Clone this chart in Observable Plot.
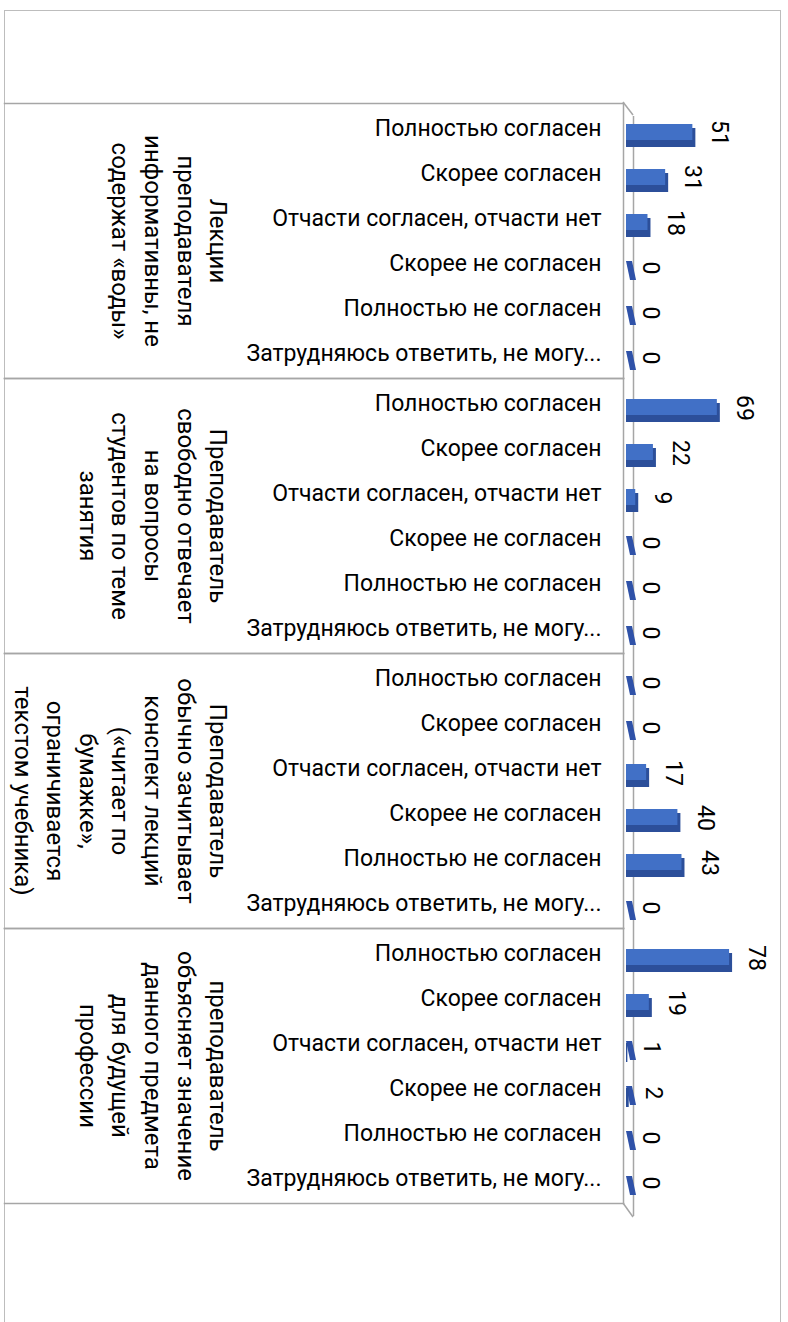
<!DOCTYPE html>
<html><head><meta charset="utf-8">
<script src="https://cdn.jsdelivr.net/npm/d3@7"></script>
<script src="https://cdn.jsdelivr.net/npm/@observablehq/plot@0.6"></script>
<style>
body{margin:0;background:#fff;}
#wrap{position:relative;width:788px;height:1322px;overflow:hidden;background:#fff;}
#border{position:absolute;left:4px;top:10px;width:777px;height:1340px;border:1.5px solid #bdbdbd;box-sizing:border-box;}
#chart{position:absolute;left:0;top:0;}
</style></head><body>
<div id="wrap"><div id="border"></div><div id="chart"></div></div>
<script>
const groups = [
  "Лекции\nпреподавателя\nинформативны, не\nсодержат «воды»",
  "Преподаватель\nсвободно отвечает\nна вопросы\nстудентов по теме\nзанятия",
  "Преподаватель\nобычно зачитывает\nконспект лекций\n(«читает по\nбумажке»,\nограничивается\nтекстом учебника)",
  "преподаватель\nобъясняет значение\nданного предмета\nдля будущей\nпрофессии"
];
const categories = [
  "Полностью согласен",
  "Скорее согласен",
  "Отчасти согласен, отчасти нет",
  "Скорее не согласен",
  "Полностью не согласен",
  "Затрудняюсь ответить, не могу..."
];
const valuesG1 = [51, 31, 18, 0, 0, 0];
const valuesG2 = [69, 22, 9, 0, 0, 0];
const valuesG3 = [0, 0, 17, 40, 43, 0];
const valuesG4 = [78, 19, 1, 2, 0, 0];

const seriesByGroup = [valuesG1, valuesG2, valuesG3, valuesG4];
const data = [];
groups.forEach((g, gi) => categories.forEach((c, ci) => data.push({group: g, cat: c, value: seriesByGroup[gi][ci]})));

const FONT = "Roboto, 'Noto Sans', sans-serif";
const W = 788, H = 1322, MT = 102, MB = 119, ML = 4, MR = 165;
const LINE = "#a6a6a6";

const plot = Plot.plot({
  width: W, height: H,
  marginTop: MT, marginBottom: MB, marginLeft: ML, marginRight: MR,
  style: {fontFamily: FONT, fontSize: "22px", color: "#000", background: "transparent"},
  x: {domain: [0, 100], range: [626, 762], axis: null},
  y: {domain: categories, padding: 0, axis: null},
  fy: {domain: groups, padding: 0, axis: null},
  marks: [
    Plot.frame({anchor: "top", stroke: LINE, strokeWidth: 1.5}),
    Plot.frame({anchor: "bottom", stroke: LINE, strokeWidth: 1.5}),
    Plot.frame({anchor: "right", stroke: LINE, strokeWidth: 1.5}),
    Plot.ruleX([0], {dx: 7, dy: 13, stroke: LINE, strokeWidth: 1.5}),
    // 3D depth face (visible as a sliver for zero values)
    Plot.barX(data, {x1: 0, x2: 0, y: "cat", fy: "group", insetTop: 20, insetBottom: 6, insetRight: -6, fill: "#2f52a8", className: "depth"}),
    // darker lower face
    Plot.barX(data, {filter: d => d.value > 0, x1: 0, x2: "value", y: "cat", fy: "group", insetTop: 22, insetBottom: 4, fill: "#2c4f9a"}),
    // main face
    Plot.barX(data, {filter: d => d.value > 0, x1: 0, x2: "value", y: "cat", fy: "group", insetTop: 18, insetBottom: 11, insetRight: 3, fill: "#4170c6"}),
    // category labels
    Plot.text(data, {x: 0, y: "cat", fy: "group", text: "cat", textAnchor: "end", dx: -25, dy: 0, fill: "#000", fontSize: 23}),
    // value labels
    Plot.text(data, {x: "value", y: "cat", fy: "group", text: d => String(d.value), rotate: 90, dx: 24, dy: 4, fill: "#000", fontSize: 23}),
    // group labels
    Plot.text(groups, {fy: d => d, frameAnchor: "left", text: d => d, rotate: 90, lineAnchor: "top", textAnchor: "middle", lineHeight: 1.36, dx: 229, fill: "#000", fontSize: 24})
  ]
});

document.getElementById("chart").appendChild(plot);

// skew the depth slivers so they read as oblique 3D faces
const svg = d3.select(plot.tagName.toLowerCase() === "svg" ? plot : plot.querySelector("svg"));
svg.selectAll(".depth rect").each(function () {
  const x = +this.getAttribute("x"), y = +this.getAttribute("y");
  this.setAttribute("transform", `translate(${x},${y}) skewX(12) translate(${-x},${-y})`);
});
// diagonal edges of the 3D category wall
const xr = W - MR;
svg.append("line").attr("x1", xr).attr("y1", MT).attr("x2", xr + 10).attr("y2", MT + 13).attr("stroke", LINE).attr("stroke-width", 1.5);
svg.append("line").attr("x1", xr).attr("y1", H - MB).attr("x2", xr + 10).attr("y2", H - MB + 14).attr("stroke", LINE).attr("stroke-width", 1.5);
</script>
</body></html>
